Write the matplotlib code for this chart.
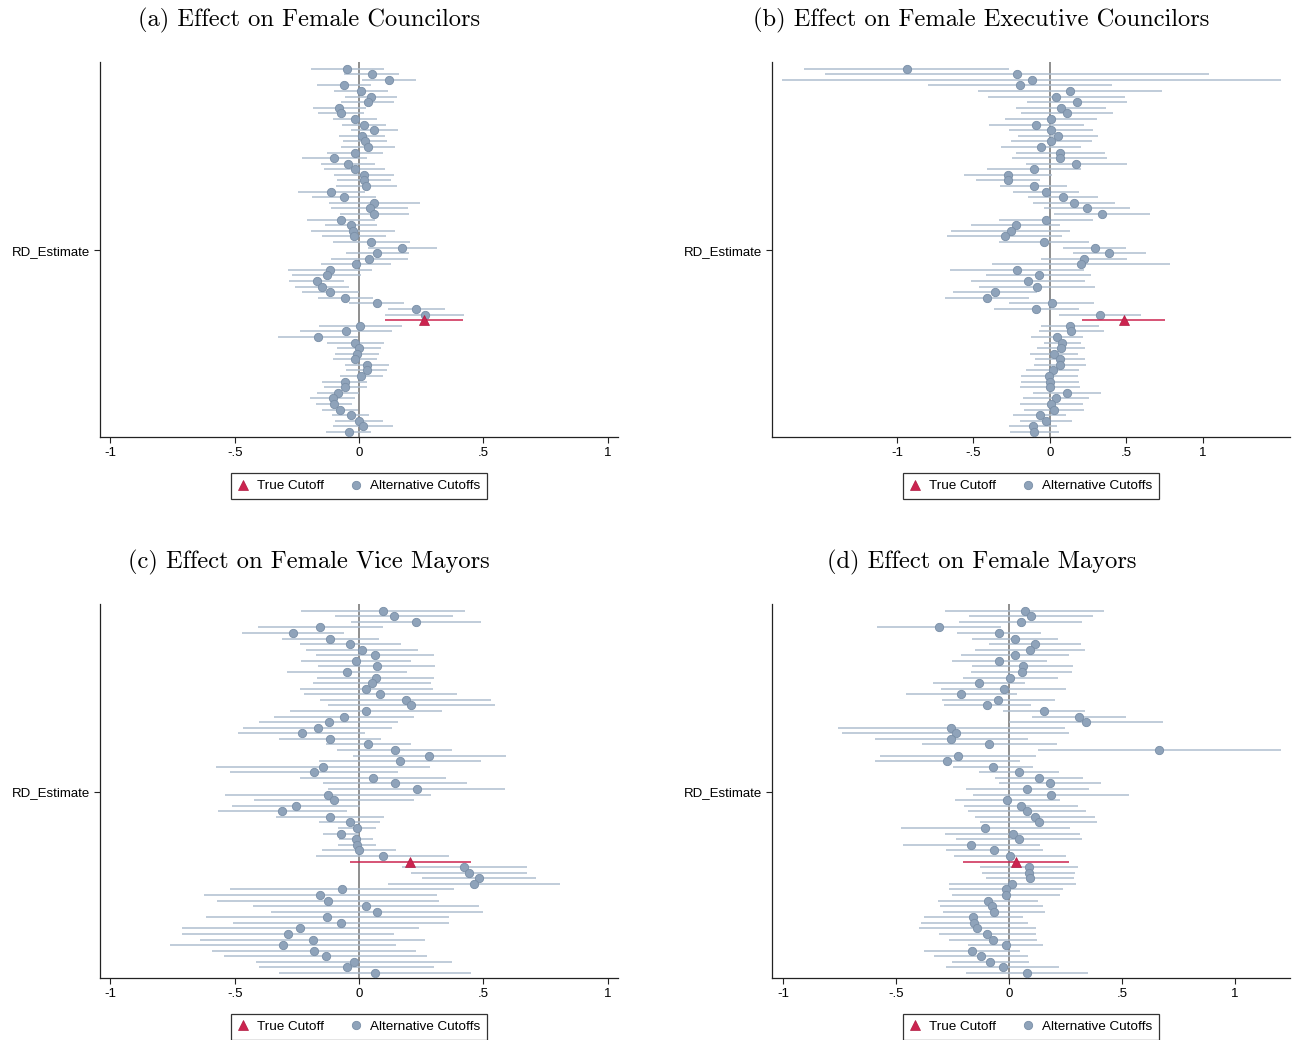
import matplotlib
matplotlib.use("Agg")
import matplotlib.pyplot as plt
from matplotlib.lines import Line2D
import numpy as np

# ---------------- data (row 0 = top); true cutoff at index 45 ----------------
TRUE_IDX = 45

est_a = [-0.047, 0.051, 0.122, -0.060, 0.008, 0.048, 0.035, -0.080, -0.071, -0.015, 0.021,
         0.062, 0.011, 0.023, 0.036, -0.016, -0.099, -0.044, -0.017, 0.020, 0.019, 0.030,
         -0.111, -0.060, 0.062, 0.043, 0.062, -0.072, -0.032, -0.025, -0.020, 0.050, 0.174,
         0.074, 0.042, -0.012, -0.117, -0.130, -0.170, -0.150, -0.115, -0.055, 0.072, 0.231,
         0.264, 0.262, 0.005, -0.052, -0.164, -0.015, -0.001, -0.008, -0.016, 0.032, 0.031,
         0.009, -0.058, -0.055, -0.086, -0.106, -0.101, -0.078, -0.034, -0.001, 0.017, -0.042]
hw_a = [0.148, 0.110, 0.109, 0.109, 0.109, 0.106, 0.106, 0.107, 0.093, 0.089, 0.089,
        0.093, 0.093, 0.089, 0.109, 0.114, 0.130, 0.107, 0.123, 0.121, 0.108, 0.121,
        0.135, 0.129, 0.182, 0.155, 0.138, 0.136, 0.103, 0.168, 0.129, 0.154, 0.138,
        0.127, 0.156, 0.139, 0.168, 0.138, 0.110, 0.109, 0.113, 0.110, 0.111, 0.116,
        0.158, 0.156, 0.167, 0.185, 0.160, 0.115, 0.089, 0.087, 0.089, 0.089, 0.083,
        0.086, 0.091, 0.087, 0.084, 0.091, 0.071, 0.072, 0.076, 0.097, 0.121, 0.090]

est_b = [-0.937, -0.216, -0.120, -0.196, 0.131, 0.041, 0.176, 0.071, 0.111, 0.007, -0.089,
         0.009, 0.054, 0.009, -0.061, 0.068, 0.063, 0.172, -0.102, -0.275, -0.275, -0.107,
         -0.026, 0.083, 0.157, 0.244, 0.338, -0.028, -0.224, -0.257, -0.296, -0.037, 0.294,
         0.388, 0.221, 0.201, -0.216, -0.074, -0.142, -0.085, -0.360, -0.412, 0.013, -0.089,
         0.327, 0.482, 0.129, 0.139, 0.046, 0.081, 0.072, 0.026, 0.065, 0.065, 0.017,
         -0.004, 0.002, 0.002, 0.111, 0.041, 0.009, 0.026, -0.068, -0.026, -0.111, -0.102]
hw_b = [0.670, 1.256, 1.629, 0.599, 0.599, 0.449, 0.325, 0.293, 0.298, 0.302, 0.309,
        0.275, 0.260, 0.265, 0.262, 0.290, 0.312, 0.329, 0.308, 0.290, 0.209, 0.221,
        0.214, 0.228, 0.266, 0.282, 0.314, 0.308, 0.292, 0.391, 0.377, 0.295, 0.206,
        0.240, 0.280, 0.583, 0.437, 0.341, 0.373, 0.382, 0.277, 0.275, 0.278, 0.277,
        0.267, 0.271, 0.190, 0.211, 0.170, 0.120, 0.157, 0.159, 0.161, 0.170, 0.171,
        0.184, 0.190, 0.197, 0.222, 0.217, 0.206, 0.197, 0.176, 0.167, 0.158, 0.162]

est_c = [0.096, 0.142, 0.228, -0.155, -0.267, -0.115, -0.035, 0.012, 0.066, -0.012, 0.071,
         -0.048, 0.068, 0.052, 0.030, 0.086, 0.188, 0.211, 0.028, -0.060, -0.122, -0.166,
         -0.231, -0.115, 0.038, 0.144, 0.282, 0.164, -0.145, -0.181, 0.058, 0.146, 0.232,
         -0.125, -0.100, -0.254, -0.308, -0.117, -0.038, -0.008, -0.072, -0.012, -0.007, 0.001,
         0.095, 0.207, 0.424, 0.443, 0.483, 0.462, -0.070, -0.155, -0.126, 0.028, 0.072,
         -0.127, -0.071, -0.236, -0.286, -0.186, -0.307, -0.182, -0.134, -0.021, -0.050, 0.064]
hw_c = [0.329, 0.238, 0.261, 0.253, 0.205, 0.194, 0.203, 0.227, 0.237, 0.221, 0.234,
        0.241, 0.235, 0.236, 0.267, 0.309, 0.344, 0.336, 0.306, 0.280, 0.280, 0.300,
        0.257, 0.205, 0.170, 0.231, 0.308, 0.326, 0.431, 0.337, 0.294, 0.289, 0.357,
        0.414, 0.323, 0.258, 0.261, 0.216, 0.123, 0.076, 0.072, 0.067, 0.077, 0.148,
        0.268, 0.242, 0.251, 0.233, 0.229, 0.345, 0.451, 0.469, 0.447, 0.455, 0.426,
        0.489, 0.434, 0.478, 0.425, 0.453, 0.455, 0.410, 0.408, 0.394, 0.353, 0.386]

est_d = [0.069, 0.097, 0.051, -0.310, -0.045, 0.028, 0.115, 0.091, 0.027, -0.043, 0.060,
         0.055, 0.006, -0.134, -0.024, -0.211, -0.047, -0.096, 0.155, 0.310, 0.342, -0.255,
         -0.237, -0.255, -0.087, 0.665, -0.226, -0.273, -0.072, 0.044, 0.134, 0.180, 0.080,
         0.187, -0.007, 0.052, 0.080, 0.115, 0.132, -0.105, 0.017, 0.043, -0.168, -0.065,
         0.003, 0.031, 0.090, 0.086, 0.093, 0.015, -0.013, -0.012, -0.093, -0.077, -0.065,
         -0.158, -0.153, -0.140, -0.097, -0.071, -0.015, -0.164, -0.124, -0.083, -0.029, 0.081]
hw_d = [0.353, 0.273, 0.271, 0.274, 0.187, 0.190, 0.204, 0.243, 0.238, 0.210, 0.224,
        0.222, 0.212, 0.204, 0.277, 0.245, 0.250, 0.193, 0.181, 0.207, 0.341, 0.501,
        0.504, 0.339, 0.299, 0.537, 0.347, 0.322, 0.178, 0.176, 0.195, 0.226, 0.272,
        0.345, 0.234, 0.252, 0.260, 0.264, 0.259, 0.375, 0.299, 0.280, 0.303, 0.216,
        0.247, 0.235, 0.217, 0.205, 0.194, 0.279, 0.253, 0.239, 0.223, 0.229, 0.226,
        0.218, 0.235, 0.257, 0.215, 0.196, 0.165, 0.211, 0.206, 0.170, 0.249, 0.270]

titles = ["(a) Effect on Female Councilors", "(b) Effect on Female Executive Councilors",
          "(c) Effect on Female Vice Mayors", "(d) Effect on Female Mayors"]
xticks = [-1, -0.5, 0, 0.5, 1]
xticklabels = ["-1", "-.5", "0", ".5", "1"]
ytick_label = "RD_Estimate"
legend_labels = ["True Cutoff", "Alternative Cutoffs"]
xlims = [(-1.042, 1.042), (-1.817, 1.569), (-1.042, 1.042), (-1.049, 1.243)]

# ---------------- style ----------------
SANS = ["Liberation Sans", "DejaVu Sans"]
C_PT = "#8fa3ba"
C_PT_EDGE = "#7a8fa7"
C_CI = "#afbecf"
C_RED = "#cc2450"
C_RED_EDGE = "#b01c42"
C_ZERO = "#707070"

fig = plt.figure(figsize=(12.95, 10.40), dpi=100)
W, H = 1295, 1040
boxes = [(100, 62, 618, 437), (772, 62, 1290, 437), (100, 604, 618, 978), (772, 604, 1290, 978)]
title_pos = [(309, 20), (981, 20), (309, 562), (982, 562)]
data = [(est_a, hw_a), (est_b, hw_b), (est_c, hw_c), (est_d, hw_d)]

for k in range(4):
    l, t, r, b = boxes[k]
    ax = fig.add_axes([l / W, 1 - b / H, (r - l) / W, (b - t) / H])
    est = np.array(data[k][0])
    hw = np.array(data[k][1])
    n = len(est)
    ypos = np.arange(n)
    alt = np.array([i for i in range(n) if i != TRUE_IDX])

    ax.axvline(0, color=C_ZERO, lw=1.1, zorder=1)
    ax.hlines(ypos[alt], est[alt] - hw[alt], est[alt] + hw[alt], color=C_CI, lw=1.1, zorder=2)
    ax.plot(est[alt], ypos[alt], 'o', ms=6.0, mfc=C_PT, mec=C_PT_EDGE, mew=0.6, zorder=3)
    ax.hlines([TRUE_IDX], [est[TRUE_IDX] - hw[TRUE_IDX]], [est[TRUE_IDX] + hw[TRUE_IDX]],
              color=C_RED, lw=1.1, zorder=4)
    ax.plot([est[TRUE_IDX]], [TRUE_IDX], '^', ms=7.0, mfc=C_RED, mec=C_RED_EDGE, mew=0.5, zorder=5)

    ax.set_xlim(*xlims[k])
    ax.set_ylim(n - 0.1, -1.2)
    ax.spines['top'].set_visible(False)
    ax.spines['right'].set_visible(False)
    for s in ['left', 'bottom']:
        ax.spines[s].set_color("#222222")
        ax.spines[s].set_linewidth(0.9)

    ax.set_xticks(xticks)
    ax.set_xticklabels(xticklabels, family=SANS, fontsize=9.5)
    ax.set_yticks([(n - 1) / 2])
    ax.set_yticklabels([ytick_label], family=SANS, fontsize=9.5)
    ax.tick_params(axis='both', direction='out', length=4, width=0.8, color="#222222", pad=3)

    handles = [Line2D([], [], marker='^', ls='none', ms=7.0, mfc=C_RED, mec=C_RED_EDGE, mew=0.5),
               Line2D([], [], marker='o', ls='none', ms=6.0, mfc=C_PT, mec=C_PT_EDGE, mew=0.6)]
    leg = ax.legend(handles, legend_labels, loc='center', bbox_to_anchor=(0.5, -0.131),
                    ncol=2, frameon=True, fancybox=False, edgecolor='black',
                    handlelength=0.8, handletextpad=0.6, columnspacing=2.0,
                    borderpad=0.5, prop={'family': SANS, 'size': 9.7})
    leg.get_frame().set_linewidth(0.9)

    tx, ty = title_pos[k]
    fig.text(tx / W, 1 - ty / H, titles[k], ha='center', va='center',
             family='cmr10', fontsize=17.6)

fig.savefig("out.png", dpi=100)
